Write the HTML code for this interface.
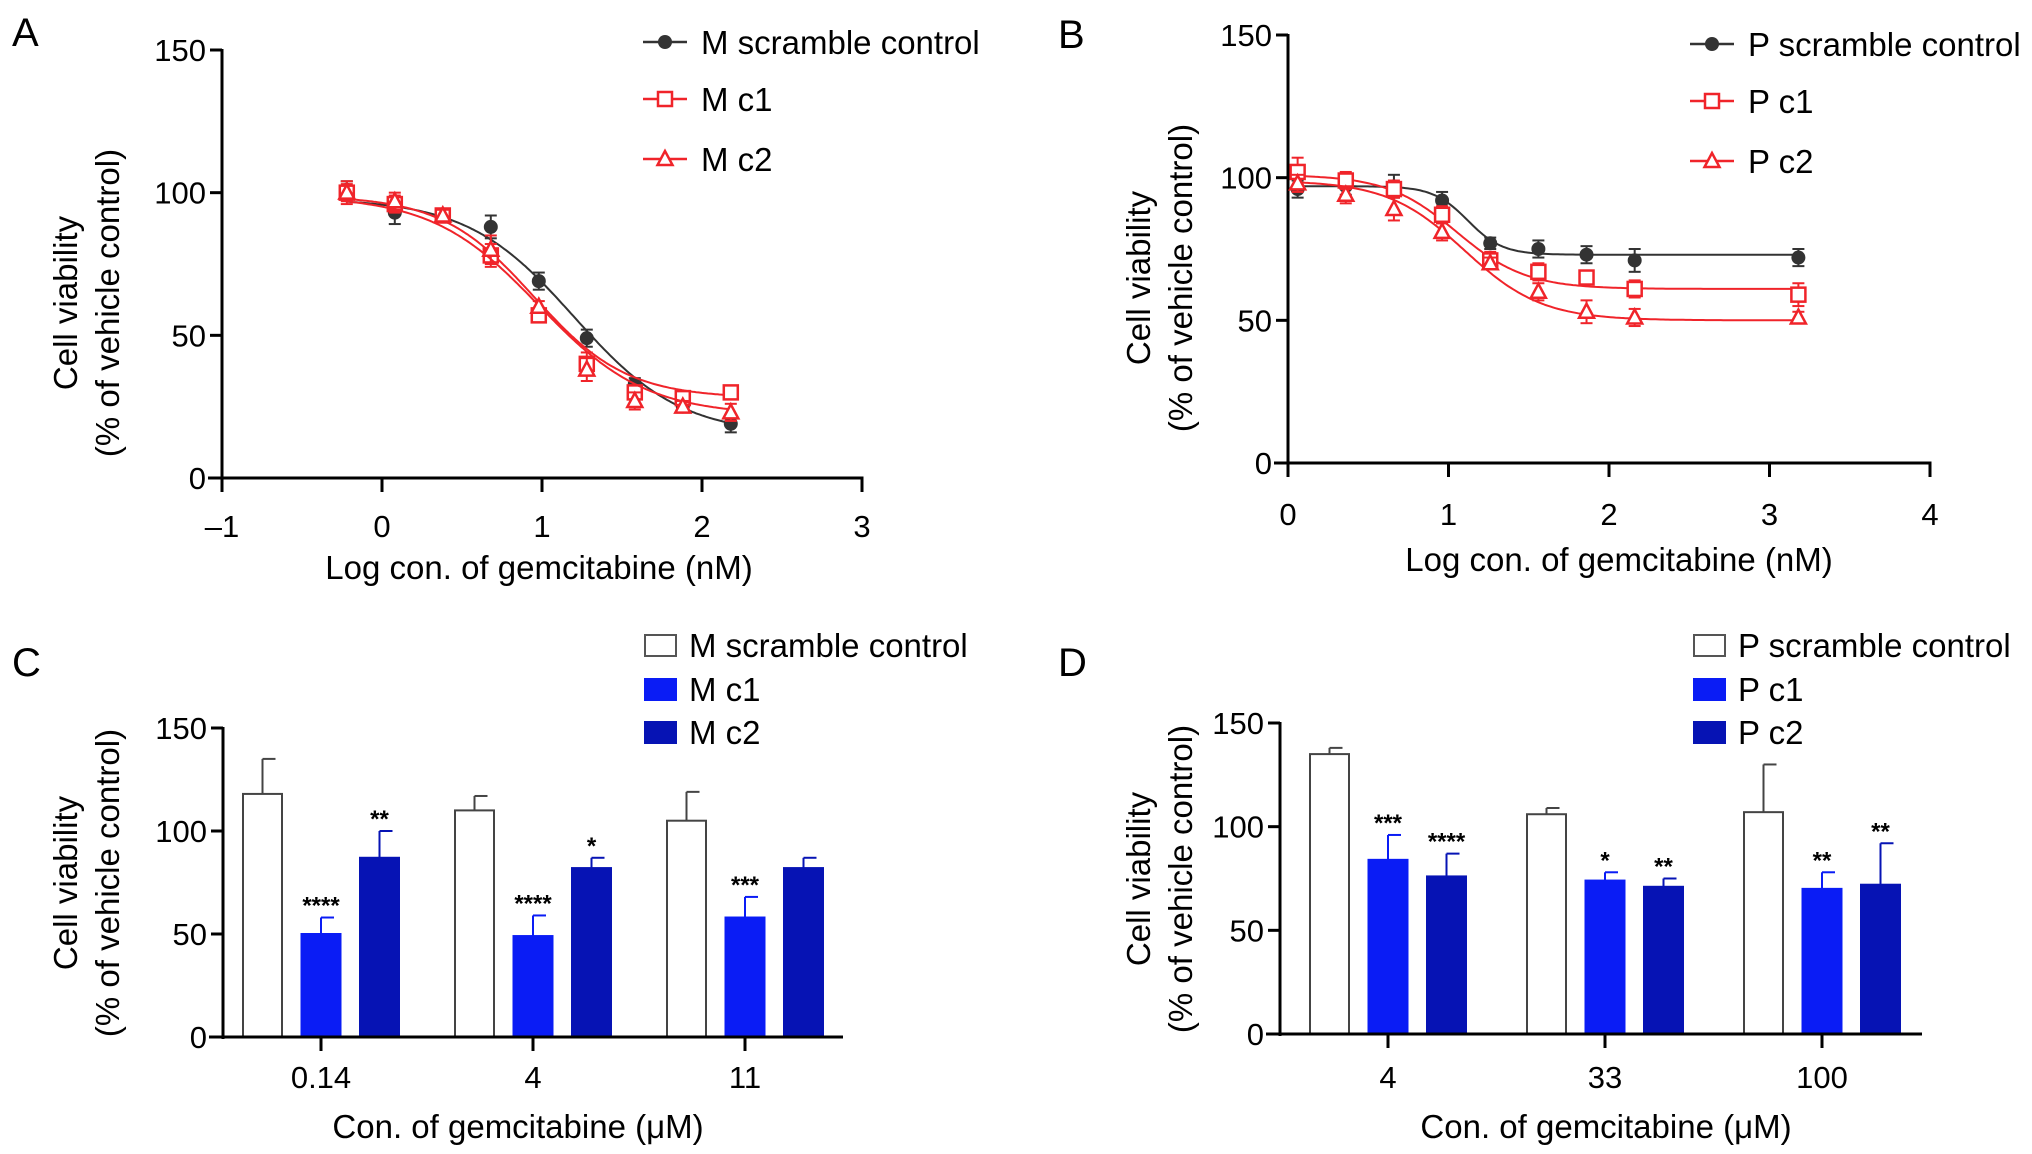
<!DOCTYPE html>
<html><head><meta charset="utf-8">
<style>
html,body{margin:0;padding:0;background:#fff;}
svg{display:block;font-family:"Liberation Sans",sans-serif;}
</style></head>
<body>
<svg id="fig" width="2032" height="1154" viewBox="0 0 2032 1154"></svg>
<script>
// ---------- Data ----------
const aX = [-0.22, 0.08, 0.38, 0.68, 0.98, 1.28, 1.58, 1.88, 2.18];
const aScr = [101, 93, 92, 88, 69, 49, 33, 25, 19];
const aScrErr = [3, 4, 2, 4, 3, 3, 2, 2, 3];
const aC1 = [100, 96, 92, 78, 57, 40, 30, 28, 30];
const aC1Err = [3, 3, 2, 4, 2, 4, 2, 2, 2];
const aC2 = [100, 97, 92, 80, 60, 38, 27, 25, 23];
const aC2Err = [4, 3, 2, 5, 2, 4, 3, 2, 3];
const aFitScr = [98, 15, 1.2, 1.3];
const aFitC1 = [99, 28, 0.95, 1.5];
const aFitC2 = [99, 22, 0.98, 1.3];

const bX = [0.06, 0.36, 0.66, 0.96, 1.26, 1.56, 1.86, 2.16, 3.18];
const bScr = [96, 97, 97, 92, 77, 75, 73, 71, 72];
const bScrErr = [3, 3, 4, 3, 2, 3, 3, 4, 3];
const bC1 = [102, 99, 96, 87, 71, 67, 65, 61, 59];
const bC1Err = [5, 3, 3, 3, 3, 3, 2, 3, 4];
const bC2 = [98, 94, 89, 81, 70, 60, 53, 51, 51];
const bC2Err = [3, 3, 4, 3, 2, 3, 4, 3, 2];
const bFitScr = [97, 73, 1.12, 4];
const bFitC1 = [101, 61, 1.05, 2];
const bFitC2 = [99, 50, 1.1, 1.8];

const cCats = ["0.14", "4", "11"];
const cScr = [118, 110, 105];
const cScrErr = [17, 7, 14];
const cC1 = [50, 49, 58];
const cC1Err = [8, 10, 10];
const cC2 = [87, 82, 82];
const cC2Err = [13, 5, 5];
const cStarsC1 = ["****", "****", "***"];
const cStarsC2 = ["**", "*", ""];

const dCats = ["4", "33", "100"];
const dScr = [135, 106, 107];
const dScrErr = [3, 3, 23];
const dC1 = [84, 74, 70];
const dC1Err = [12, 4, 8];
const dC2 = [76, 71, 72];
const dC2Err = [11, 4, 20];
const dStarsC1 = ["***", "*", "**"];
const dStarsC2 = ["****", "**", "**"];

const yTicks = [0, 50, 100, 150];
const aXTicks = [-1, 0, 1, 2, 3];
const bXTicks = [0, 1, 2, 3, 4];

// ---------- helpers ----------
const NS = "http://www.w3.org/2000/svg";
const svg = document.getElementById("fig");
function el(tag, attrs, parent, text) {
  const e = document.createElementNS(NS, tag);
  for (const k in attrs) e.setAttribute(k, attrs[k]);
  if (text !== undefined) e.textContent = text;
  (parent || svg).appendChild(e);
  return e;
}
const RED = "#f0242a", BLUE = "#0a1cf5", DBLUE = "#0613b4";
const FS = 31, TFS = 33;

function yAxis(g, x0, yS) {
  el("line", {x1: x0, y1: yS(0) + 2, x2: x0, y2: yS(150) - 1, stroke: "#000", "stroke-width": 3}, g);
  yTicks.forEach(t => {
    el("line", {x1: x0 - 12, y1: yS(t), x2: x0, y2: yS(t), stroke: "#000", "stroke-width": 3}, g);
    const tl = el("text", {x: x0 - 16, y: yS(t) + 11, "text-anchor": "end", "font-size": FS}, g, String(t));
    
    
  });
}
function yTitle(g, cx, cy) {
  const t = el("text", {transform: `translate(${cx},${cy}) rotate(-90)`, "text-anchor": "middle", "font-size": TFS}, g);
  
  
  el("tspan", {x: 0, y: 0}, t, "Cell viability");
  el("tspan", {x: 0, y: 42}, t, "(% of vehicle control)");
}
function label(txt, x, y, name) {
  const t = el("text", {x: x, y: y, "font-size": 40}, svg, txt);
  
  
}
function logistic(p, x) { return p[1] + (p[0] - p[1]) / (1 + Math.pow(10, (x - p[2]) * p[3])); }

function marker(g, type, x, y, color) {
  if (type === "circle") el("circle", {cx: x, cy: y, r: 7, fill: color}, g);
  else if (type === "square") el("rect", {x: x - 7, y: y - 7, width: 14, height: 14, fill: "#fff", stroke: color, "stroke-width": 2.5}, g);
  else el("polygon", {points: `${x},${y - 8} ${x - 7.5},${y + 6} ${x + 7.5},${y + 6}`, fill: "#fff", stroke: color, "stroke-width": 2.5}, g);
}

function linePanel(cfg) {
  const g = el("g", {});
  
  
  const xS = v => cfg.x0 + (v - cfg.xmin) / (cfg.xmax - cfg.xmin) * (cfg.x1 - cfg.x0);
  const yS = v => cfg.yb - v / 150 * (cfg.yb - cfg.yt);
  el("line", {x1: cfg.x0 - 14, y1: yS(0), x2: cfg.x1 + 1.5, y2: yS(0), stroke: "#000", "stroke-width": 3}, g);
  cfg.xticks.forEach(t => {
    el("line", {x1: xS(t), y1: yS(0), x2: xS(t), y2: yS(0) + 14, stroke: "#000", "stroke-width": 3}, g);
    const tl = el("text", {x: xS(t), y: cfg.tickY, "text-anchor": "middle", "font-size": FS}, g, (t < 0 ? "\u2013" + (-t) : String(t)));
    
    
  });
  yAxis(g, cfg.x0, yS);
  yTitle(g, cfg.yTitleX, cfg.yTitleY);
  const xt = el("text", {x: cfg.xTitleX, y: cfg.xTitleY, "text-anchor": "middle", "font-size": TFS}, g, "Log con. of gemcitabine (nM)");
  
  
  cfg.series.forEach(s => {
    const sg = el("g", {}, g);
    
    
    let d = "";
    const xa = cfg.xs[0], xb = cfg.xs[cfg.xs.length - 1];
    for (let i = 0; i <= 200; i++) {
      const xv = xa + (xb - xa) * i / 200;
      d += (i ? "L" : "M") + xS(xv).toFixed(1) + "," + yS(logistic(s.fit, xv)).toFixed(1);
    }
    el("path", {d: d, fill: "none", stroke: s.color, "stroke-width": 2}, sg);
    cfg.xs.forEach((xv, i) => {
      const px = xS(xv), py = yS(s.vals[i]), e = s.errs[i];
      el("line", {x1: px, y1: yS(s.vals[i] + e), x2: px, y2: yS(s.vals[i] - e), stroke: s.color, "stroke-width": 2}, sg);
      [s.vals[i] + e, s.vals[i] - e].forEach(v => el("line", {x1: px - 6, y1: yS(v), x2: px + 6, y2: yS(v), stroke: s.color, "stroke-width": 2}, sg));
      marker(sg, s.marker, px, py, s.color);
    });
    const lg = el("g", {}, g);
    
    
    el("line", {x1: cfg.legX, y1: s.legY, x2: cfg.legX + 44, y2: s.legY, stroke: s.color, "stroke-width": 2.5}, lg);
    marker(lg, s.marker, cfg.legX + 22, s.legY, s.color);
    el("text", {x: cfg.legX + 58, y: s.legY + 12, "font-size": TFS}, lg, s.label);
  });
}

function barPanel(cfg) {
  const g = el("g", {});
  
  
  const yS = v => cfg.yb - v / 150 * (cfg.yb - cfg.yt);
  const bw = 39, step = 58.5;
  cfg.cats.forEach((c, i) => {
    const cx = cfg.centers0 + i * cfg.gap;
    cfg.series.forEach((s, j) => {
      const bx = cx + (j - 1) * step;
      const v = s.vals[i], e = s.errs[i];
      el("line", {x1: bx, y1: yS(v), x2: bx, y2: yS(v + e), stroke: s.stroke, "stroke-width": 2}, g);
      el("line", {x1: bx, y1: yS(v + e), x2: bx + 13, y2: yS(v + e), stroke: s.stroke, "stroke-width": 2}, g);
      const r = el("rect", {x: bx - bw / 2, y: yS(v), width: bw, height: yS(0) - yS(v), fill: s.fill, stroke: s.stroke, "stroke-width": 2}, g);
      
      
      if (s.stars && s.stars[i]) {
        const st = el("text", {x: bx, y: yS(v + e) - 4, "text-anchor": "middle", "font-size": 24, "font-weight": "bold"}, g, s.stars[i]);
        
        
      }
    });
    el("line", {x1: cx, y1: yS(0), x2: cx, y2: yS(0) + 14, stroke: "#000", "stroke-width": 3}, g);
    const tl = el("text", {x: cx, y: cfg.tickY, "text-anchor": "middle", "font-size": FS}, g, c);
    
    
  });
  el("line", {x1: cfg.x0 - 14, y1: yS(0), x2: cfg.x1, y2: yS(0), stroke: "#000", "stroke-width": 3}, g);
  yAxis(g, cfg.x0, yS);
  yTitle(g, cfg.yTitleX, cfg.yTitleY);
  const xt = el("text", {x: cfg.xTitleX, y: cfg.xTitleY, "text-anchor": "middle", "font-size": TFS}, g, "Con. of gemcitabine (\u03bcM)");
  
  
  cfg.series.forEach(s => {
    const lg = el("g", {}, g);
    
    
    el("rect", {x: cfg.legX, y: s.legY - 10, width: 31, height: 21, fill: s.fill, stroke: s.fill === "#fff" ? "#555" : s.fill, "stroke-width": 2}, lg);
    el("text", {x: cfg.legX + 44, y: s.legY + 12, "font-size": TFS}, lg, s.label);
  });
}

linePanel({name: "panel-a-chart", x0: 222, x1: 862, xmin: -1, xmax: 3, yb: 478, yt: 50, xticks: aXTicks, tickY: 537, xs: aX,
  yTitleX: 77, yTitleY: 303, xTitleX: 539, xTitleY: 579, legX: 643,
  series: [
    {name: "series-m-scramble", vals: aScr, errs: aScrErr, fit: aFitScr, color: "#333", marker: "circle", label: "M scramble control", legY: 42},
    {name: "series-m-c1", vals: aC1, errs: aC1Err, fit: aFitC1, color: RED, marker: "square", label: "M c1", legY: 99},
    {name: "series-m-c2", vals: aC2, errs: aC2Err, fit: aFitC2, color: RED, marker: "tri", label: "M c2", legY: 159}
  ]});
linePanel({name: "panel-b-chart", x0: 1288, x1: 1930, xmin: 0, xmax: 4, yb: 463, yt: 35, xticks: bXTicks, tickY: 525, xs: bX,
  yTitleX: 1150, yTitleY: 278, xTitleX: 1619, xTitleY: 571, legX: 1690,
  series: [
    {name: "series-p-scramble", vals: bScr, errs: bScrErr, fit: bFitScr, color: "#333", marker: "circle", label: "P scramble control", legY: 44},
    {name: "series-p-c1", vals: bC1, errs: bC1Err, fit: bFitC1, color: RED, marker: "square", label: "P c1", legY: 101},
    {name: "series-p-c2", vals: bC2, errs: bC2Err, fit: bFitC2, color: RED, marker: "tri", label: "P c2", legY: 161}
  ]});
barPanel({name: "panel-c-chart", x0: 223, x1: 843, yb: 1037, yt: 728, cats: cCats, centers0: 321, gap: 212, tickY: 1088,
  yTitleX: 77, yTitleY: 883, xTitleX: 518, xTitleY: 1138, legX: 645,
  series: [
    {key: "m-scramble", vals: cScr, errs: cScrErr, fill: "#fff", stroke: "#444", label: "M scramble control", legY: 645},
    {key: "m-c1", vals: cC1, errs: cC1Err, fill: BLUE, stroke: BLUE, label: "M c1", legY: 689, stars: cStarsC1},
    {key: "m-c2", vals: cC2, errs: cC2Err, fill: DBLUE, stroke: DBLUE, label: "M c2", legY: 732, stars: cStarsC2}
  ]});
barPanel({name: "panel-d-chart", x0: 1280, x1: 1922, yb: 1034, yt: 723, cats: dCats, centers0: 1388, gap: 217, tickY: 1088,
  yTitleX: 1150, yTitleY: 879, xTitleX: 1606, xTitleY: 1138, legX: 1694,
  series: [
    {key: "p-scramble", vals: dScr, errs: dScrErr, fill: "#fff", stroke: "#444", label: "P scramble control", legY: 645},
    {key: "p-c1", vals: dC1, errs: dC1Err, fill: BLUE, stroke: BLUE, label: "P c1", legY: 689, stars: dStarsC1},
    {key: "p-c2", vals: dC2, errs: dC2Err, fill: DBLUE, stroke: DBLUE, label: "P c2", legY: 732, stars: dStarsC2}
  ]});
label("A", 12, 46, "panel-label-a");
label("B", 1058, 48, "panel-label-b");
label("C", 12, 676, "panel-label-c");
label("D", 1058, 676, "panel-label-d");
</script>
</body></html>
